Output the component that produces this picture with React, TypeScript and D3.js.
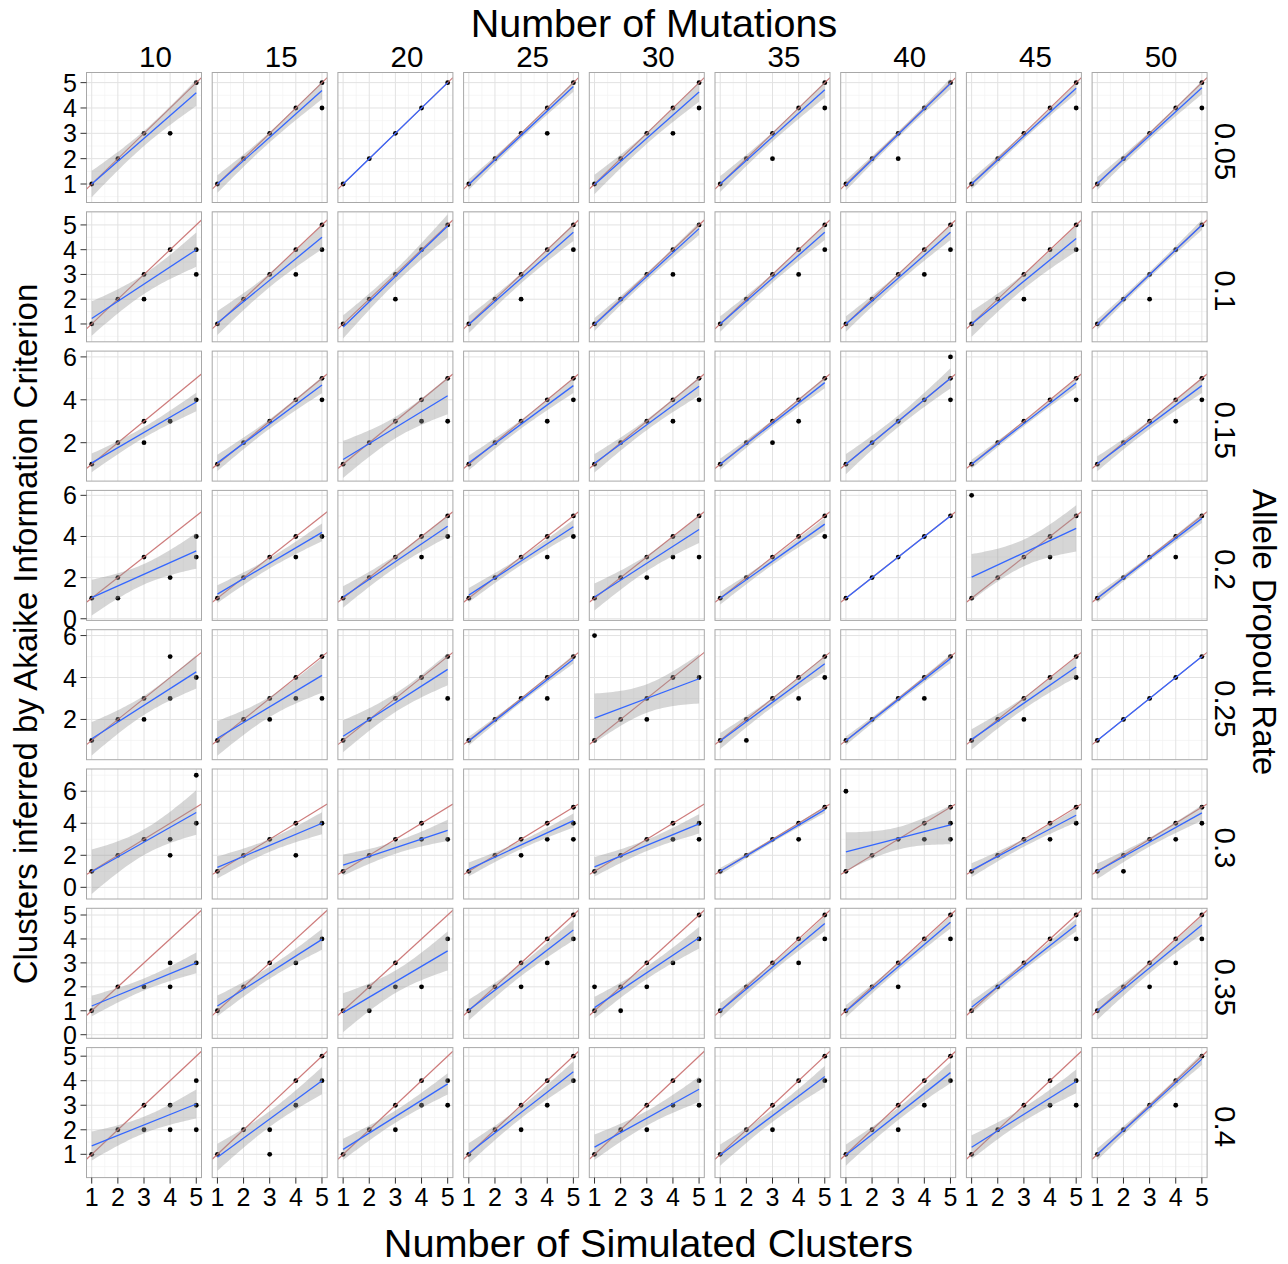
import * as d3 from 'd3';

const mutations = ['10', '15', '20', '25', '30', '35', '40', '45', '50'];
const dropoutRates = ['0.05', '0.1', '0.15', '0.2', '0.25', '0.3', '0.35', '0.4'];
const xTicks = [1, 2, 3, 4, 5];
const yTicksByRow = [
  [1, 2, 3, 4, 5],
  [1, 2, 3, 4, 5],
  [2, 4, 6],
  [0, 2, 4, 6],
  [2, 4, 6],
  [0, 2, 4, 6],
  [0, 1, 2, 3, 4, 5],
  [1, 2, 3, 4, 5],
];
const yLimitsByRow = [
  [0.27, 5.4],
  [0.28, 5.53],
  [0.21, 6.27],
  [-0.08, 6.24],
  [0.08, 6.28],
  [-0.73, 7.39],
  [-0.15, 5.28],
  [0.05, 5.35],
];

// inferred cluster counts seen at simulated clusters 1..5, one entry per mutation column
const obs005 = [
  [[1], [2], [3], [3], [5]],
  [[1], [2], [3], [4], [5, 4]],
  [[1], [2], [3], [4], [5]],
  [[1], [2], [3], [4, 3], [5]],
  [[1], [2], [3], [4, 3], [5, 4]],
  [[1], [2], [3, 2], [4], [5, 4]],
  [[1], [2], [3, 2], [4], [5]],
  [[1], [2], [3], [4], [5, 4]],
  [[1], [2], [3], [4], [5, 4]],
];
const obs010 = [
  [[1], [2], [3, 2], [4], [4, 3]],
  [[1], [2], [3], [4, 3], [5, 4]],
  [[1], [2], [3, 2], [4], [5]],
  [[1], [2], [3, 2], [4], [5, 4]],
  [[1], [2], [3], [4, 3], [5]],
  [[1], [2], [3], [4, 3], [5, 4]],
  [[1], [2], [3], [4, 3], [5, 4]],
  [[1], [2], [3, 2], [4], [5, 4]],
  [[1], [2], [3, 2], [4], [5]],
];
const obs015 = [
  [[1], [2], [3, 2], [3], [4]],
  [[1], [2], [3], [4], [5, 4]],
  [[1], [2], [3], [4, 3], [5, 3]],
  [[1], [2], [3], [4, 3], [5, 4]],
  [[1], [2], [3], [4, 3], [5, 4]],
  [[1], [2], [3, 2], [4, 3], [5]],
  [[1], [2], [3], [4], [6, 5, 4]],
  [[1], [2], [3], [4], [5, 4]],
  [[1], [2], [3], [4, 3], [5, 4]],
];
const obs020 = [
  [[1], [2, 1], [3], [2], [4, 3]],
  [[1], [2], [3], [4, 3], [4]],
  [[1], [2], [3], [4, 3], [5, 4]],
  [[1], [2], [3], [4, 3], [5, 4]],
  [[1], [2], [3, 2], [4, 3], [5, 3]],
  [[1], [2], [3], [4], [5, 4]],
  [[1], [2], [3], [4], [5]],
  [[6, 1], [2], [3], [4, 3], [5]],
  [[1], [2], [3], [4, 3], [5]],
];
const obs025 = [
  [[1], [2], [3, 2], [5, 3], [4]],
  [[1], [2], [3, 2], [4, 3], [5, 3]],
  [[1], [2], [3], [4], [5, 3]],
  [[1], [2], [3], [4, 3], [5]],
  [[6, 1], [2], [3, 2], [4], [4]],
  [[1], [2, 1], [3], [4, 3], [5, 4]],
  [[1], [2], [3], [4, 3], [5]],
  [[1], [2], [3, 2], [4], [5, 4]],
  [[1], [2], [3], [4], [5]],
];
const obs030 = [
  [[1], [2], [3], [3, 2], [7, 4]],
  [[1], [2], [3], [4, 2], [4]],
  [[1], [2], [3], [4, 3], [3]],
  [[1], [2], [3, 2], [4, 3], [5, 4, 3]],
  [[1], [2], [3], [4, 3], [4, 3]],
  [[1], [2], [3], [4, 3], [5]],
  [[6, 1], [2], [3], [4, 3], [5, 4, 3]],
  [[1], [2], [3], [4, 3], [5, 4]],
  [[1], [2, 1], [3], [4, 3], [5, 4]],
];
const obs035 = [
  [[1], [2], [2], [3, 2], [3]],
  [[1], [2], [3], [3], [4]],
  [[1], [2, 1], [3, 2], [2], [4]],
  [[1], [2], [3, 2], [4, 3], [5, 4]],
  [[2, 1], [2, 1], [3, 2], [3], [5, 4]],
  [[1], [2], [3], [4, 3], [5, 4]],
  [[1], [2], [3, 2], [4], [5, 4]],
  [[1], [2], [3], [4], [5, 4]],
  [[1], [2], [3, 2], [4, 3], [5, 4]],
];
const obs040 = [
  [[1], [2], [3, 2], [3, 2], [4, 3, 2]],
  [[1], [2], [2, 1], [4, 3], [5, 4]],
  [[1], [2], [3, 2], [4, 3], [4, 3]],
  [[1], [2], [3, 2], [4, 3], [5, 4]],
  [[1], [2], [3, 2], [4, 3], [4, 3]],
  [[1], [2], [3, 2], [4], [5, 4]],
  [[1], [2], [3, 2], [4, 3], [5, 4]],
  [[1], [2], [3], [4, 3], [4, 3]],
  [[1], [2], [3], [4, 3], [5]],
];
const observed = [obs005, obs010, obs015, obs020, obs025, obs030, obs035, obs040];

// linear fit: value at 1 and at 5 simulated clusters
const fitAtOne = [
  [1.0, 1.0, 1.0, 0.98, 0.98, 1.0, 0.95, 1.0, 1.02],
  [1.22, 1.04, 0.88, 0.98, 0.98, 1.0, 1.0, 1.0, 0.98],
  [1.06, 1.06, 1.22, 1.06, 1.04, 1.0, 1.0, 1.0, 1.02],
  [1.03, 1.2, 1.06, 1.15, 1.06, 1.0, 1.0, 2.02, 1.0],
  [1.08, 1.1, 1.2, 0.97, 2.06, 0.97, 0.98, 1.05, 1.0],
  [0.97, 1.24, 1.39, 1.12, 1.28, 1.0, 2.22, 1.07, 1.0],
  [1.2, 1.2, 0.92, 1.03, 1.13, 1.0, 0.98, 1.15, 1.0],
  [1.34, 0.88, 1.2, 1.04, 1.29, 0.97, 0.97, 1.29, 1.0],
];
const fitAtFive = [
  [4.6, 4.69, 5.0, 4.85, 4.63, 4.72, 4.96, 4.78, 4.8],
  [4.0, 4.5, 4.96, 4.7, 4.85, 4.7, 4.7, 4.45, 5.0],
  [3.9, 4.69, 4.19, 4.66, 4.63, 4.8, 5.0, 4.78, 4.66],
  [3.3, 4.2, 4.5, 4.47, 4.34, 4.6, 5.0, 4.39, 4.88],
  [4.27, 4.1, 4.39, 4.87, 3.94, 4.66, 4.9, 4.5, 5.0],
  [4.67, 4.0, 3.56, 4.17, 3.96, 4.85, 3.9, 4.5, 4.65],
  [3.0, 3.98, 3.5, 4.37, 4.05, 4.64, 4.7, 4.58, 4.58],
  [3.05, 4.0, 3.87, 4.37, 3.65, 4.17, 4.33, 3.97, 4.88],
];
// half width of the confidence band at 3 simulated clusters
const bandAtCentre = [
  [0.3, 0.2, 0, 0.12, 0.22, 0.18, 0.12, 0.12, 0.15],
  [0.4, 0.28, 0.27, 0.2, 0.15, 0.18, 0.18, 0.3, 0.12],
  [0.25, 0.22, 0.5, 0.2, 0.25, 0.15, 0.27, 0.12, 0.2],
  [0.5, 0.25, 0.3, 0.2, 0.38, 0.18, 0, 0.65, 0.13],
  [0.46, 0.48, 0.44, 0.12, 0.68, 0.22, 0.12, 0.28, 0],
  [0.8, 0.4, 0.38, 0.25, 0.35, 0.12, 0.7, 0.25, 0.28],
  [0.25, 0.25, 0.47, 0.25, 0.26, 0.18, 0.15, 0.15, 0.22],
  [0.34, 0.32, 0.25, 0.24, 0.3, 0.25, 0.25, 0.28, 0.14],
];

const FONT = '"Liberation Sans", Arial, Helvetica, sans-serif';
const left0 = 86.5;
const colStep = 125.7;
const panelW = 115;
const top0 = 72.5;
const rowStep = 139.3;
const panelH = 130;

function minorBreaks(ticks: number[], lo: number, hi: number) {
  const step = ticks[1] - ticks[0];
  const out: number[] = [];
  for (let t = ticks[0] - step / 2; t <= ticks[ticks.length - 1] + step; t += step) {
    if (t >= lo && t <= hi) out.push(t);
  }
  return out;
}

function Panel({ r, c }: { r: number; c: number }) {
  const px = left0 + c * colStep;
  const py = top0 + r * rowStep;
  const x = d3.scaleLinear().domain([0.8, 5.2]).range([px, px + panelW]);
  const y = d3.scaleLinear().domain(yLimitsByRow[r]).range([py + panelH, py]);
  const [lo, hi] = yLimitsByRow[r];
  const yTicks = yTicksByRow[r];
  const yMinor = minorBreaks(yTicks, lo, hi);
  const xMinor = [1.5, 2.5, 3.5, 4.5];

  const a = fitAtOne[r][c];
  const b = fitAtFive[r][c];
  const half = bandAtCentre[r][c];
  const fit = (v: number) => a + ((b - a) * (v - 1)) / 4;
  const hw = (v: number) => half * Math.sqrt(1 + ((v - 3) * (v - 3)) / 2);
  const xs = d3.range(0, 41).map(i => 1 + i * 0.1);

  const band = d3
    .area<number>()
    .x(v => x(v))
    .y0(v => y(fit(v) - hw(v)))
    .y1(v => y(fit(v) + hw(v)))(xs);
  const fitLine = d3
    .line<number>()
    .x(v => x(v))
    .y(v => y(fit(v)))([1, 5]);
  const identity = d3
    .line<number>()
    .x(v => x(v))
    .y(v => y(v))([0.8, 5.2]);

  const pts: [number, number][] = [];
  observed[r][c].forEach((vals, i) => vals.forEach(v => pts.push([xTicks[i], v])));
  const clipId = `clip-${r}-${c}`;

  return (
    <g>
      <clipPath id={clipId}>
        <rect x={px} y={py} width={panelW} height={panelH} />
      </clipPath>
      <rect x={px} y={py} width={panelW} height={panelH} fill="#fff" />
      <g clipPath={`url(#${clipId})`}>
        {yMinor.map(t => (
          <line key={`ym${t}`} x1={px} x2={px + panelW} y1={y(t)} y2={y(t)} stroke="#f2f2f2" strokeWidth={0.7} />
        ))}
        {xMinor.map(t => (
          <line key={`xm${t}`} x1={x(t)} x2={x(t)} y1={py} y2={py + panelH} stroke="#f2f2f2" strokeWidth={0.7} />
        ))}
        {yTicks.map(t => (
          <line key={`y${t}`} x1={px} x2={px + panelW} y1={y(t)} y2={y(t)} stroke="#e2e2e2" strokeWidth={1} />
        ))}
        {xTicks.map(t => (
          <line key={`x${t}`} x1={x(t)} x2={x(t)} y1={py} y2={py + panelH} stroke="#e2e2e2" strokeWidth={1} />
        ))}
        {pts.map(([u, v], i) => (
          <circle key={i} cx={x(u)} cy={y(v)} r={2.4} fill="#000" />
        ))}
        <path d={identity ?? ''} stroke="#c86b6b" strokeOpacity={0.9} strokeWidth={1.2} fill="none" />
        {half > 0 && <path d={band ?? ''} fill="#999999" fillOpacity={0.4} stroke="none" />}
        <path d={fitLine ?? ''} stroke="#3366ff" strokeWidth={1.3} fill="none" />
      </g>
      <rect x={px} y={py} width={panelW} height={panelH} fill="none" stroke="#a8a8a8" strokeWidth={1} />
      {c === 0 &&
        yTicks.map(t => (
          <g key={`yt${t}`}>
            <line x1={px - 6} x2={px} y1={y(t)} y2={y(t)} stroke="#333" strokeWidth={1} />
            <text x={px - 9.5} y={y(t)} dy="0.36em" textAnchor="end" fontSize={25} fontFamily={FONT} fill="#000">
              {t}
            </text>
          </g>
        ))}
      {r === dropoutRates.length - 1 &&
        xTicks.map(t => (
          <g key={`xt${t}`}>
            <line x1={x(t)} x2={x(t)} y1={py + panelH} y2={py + panelH + 6} stroke="#333" strokeWidth={1} />
            <text x={x(t)} y={py + panelH + 28.5} textAnchor="middle" fontSize={25} fontFamily={FONT} fill="#000">
              {t}
            </text>
          </g>
        ))}
    </g>
  );
}

export default function App() {
  const gridLeft = left0;
  const gridRight = left0 + (mutations.length - 1) * colStep + panelW;
  const gridTop = top0;
  const gridBottom = top0 + (dropoutRates.length - 1) * rowStep + panelH;
  const midX = (gridLeft + gridRight) / 2;
  const midY = (gridTop + gridBottom) / 2;

  return (
    <svg
      width={1288}
      height={1264}
      style={{ position: 'absolute', left: 0, top: 0, background: '#fff' }}
      fontFamily={FONT}
    >
      <rect width={1288} height={1264} fill="#fff" />
      <text x={654} y={37} textAnchor="middle" fontSize={39.5}>
        Number of Mutations
      </text>
      {mutations.map((m, c) => (
        <text key={m} x={left0 + c * colStep + panelW / 2 + 11.5} y={66.5} textAnchor="middle" fontSize={29.5}>
          {m}
        </text>
      ))}
      {dropoutRates.map((d, r) => (
        <text
          key={d}
          transform={`translate(${gridRight + 8},${top0 + r * rowStep + panelH / 2 + 14}) rotate(90)`}
          textAnchor="middle"
          fontSize={29.5}
        >
          {d}
        </text>
      ))}
      <text transform={`translate(1253,632) rotate(90)`} textAnchor="middle" fontSize={33}>
        Allele Dropout Rate
      </text>
      <text transform={`translate(37,634) rotate(-90)`} textAnchor="middle" fontSize={33}>
        Clusters inferred by Akaike Information Criterion
      </text>
      <text x={648.5} y={1257} textAnchor="middle" fontSize={39.7}>
        Number of Simulated Clusters
      </text>
      {dropoutRates.map((_, r) => mutations.map((__, c) => <Panel key={`${r}-${c}`} r={r} c={c} />))}
    </svg>
  );
}
